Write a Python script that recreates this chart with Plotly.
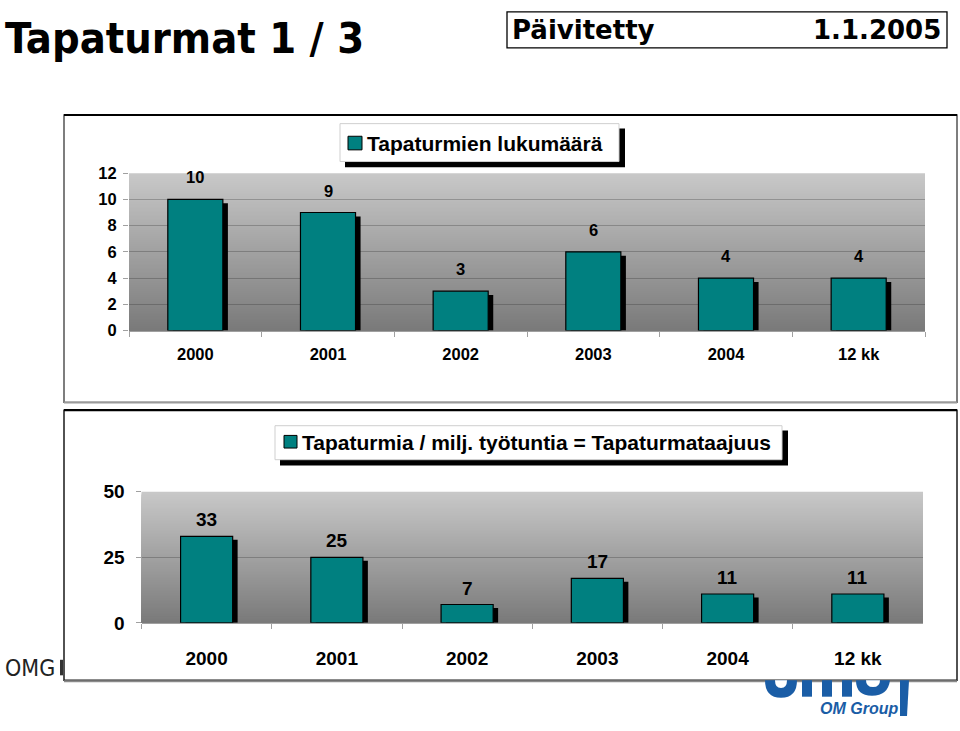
import plotly.graph_objects as go

# ---------------- data ----------------
categories = ["2000", "2001", "2002", "2003", "2004", "12 kk"]
accidents = [10, 9, 3, 6, 4, 4]
frequency = [33, 25, 7, 17, 11, 11]
top_ticks = [0, 2, 4, 6, 8, 10, 12]
bottom_ticks = [0, 25, 50]
top_legend = "Tapaturmien lukumäärä"
bottom_legend = "Tapaturmia / milj. työtuntia = Tapaturmataajuus"
title_text = "Tapaturmat 1 / 3"
updated_label = "Päivitetty"
updated_date = "1.1.2005"
footer_text = "OMG"
logo_text = "OM Group"

# ---------------- helpers ----------------
W, H = 960, 731


def px(x):
    return x / W


def py(y):
    return 1 - y / H


def path(points):
    s = ""
    for cmd, *pts in points:
        s += cmd
        coords = []
        for i in range(0, len(pts), 2):
            coords.append(f"{px(pts[i]):.5f},{py(pts[i + 1]):.5f}")
        s += " ".join(coords) + " "
    return s.strip()


TEAL = "#008080"
BLUE = "#1a5da6"
ARIAL = "Liberation Sans, Arial, sans-serif"
COND = "DejaVu Sans Condensed, DejaVu Sans, sans-serif"

fig = go.Figure()

# ---------------- top chart bars ----------------
bw1, dx1, dy1 = 0.415, 0.038, 0.3
fig.add_bar(x=categories, y=[v - dy1 for v in accidents], width=bw1,
            offset=-bw1 / 2 + dx1, marker=dict(color="black", line=dict(width=0)),
            xaxis="x", yaxis="y", hoverinfo="skip", showlegend=False)
fig.add_bar(x=categories, y=accidents, width=bw1, offset=-bw1 / 2,
            marker=dict(color=TEAL, line=dict(color="black", width=1.2)),
            xaxis="x", yaxis="y", name=top_legend, showlegend=False)

# ---------------- bottom chart bars ----------------
bw2, dx2, dy2 = 0.40, 0.038, 1.3
fig.add_bar(x=categories, y=[v - dy2 for v in frequency], width=bw2,
            offset=-bw2 / 2 + dx2, marker=dict(color="black", line=dict(width=0)),
            xaxis="x2", yaxis="y2", hoverinfo="skip", showlegend=False)
fig.add_bar(x=categories, y=frequency, width=bw2, offset=-bw2 / 2,
            marker=dict(color=TEAL, line=dict(color="black", width=1.2)),
            xaxis="x2", yaxis="y2", name=bottom_legend, showlegend=False)

shapes = []
annotations = []

# ---------------- boxes ----------------
shapes.append(dict(type="rect", xref="paper", yref="paper", x0=px(64), x1=px(957),
                   y0=py(404), y1=py(108), fillcolor="white",
                   line=dict(color="#3a3a3a", width=1.3), layer="below"))
shapes.append(dict(type="line", xref="paper", yref="paper", x0=px(64), x1=px(957),
                   y0=py(108), y1=py(108), line=dict(color="black", width=2), layer="below"))
shapes.append(dict(type="line", xref="paper", yref="paper", x0=px(64), x1=px(957),
                   y0=py(404), y1=py(404), line=dict(color="#9a9a9a", width=2), layer="below"))
shapes.append(dict(type="rect", xref="paper", yref="paper", x0=px(64), x1=px(957),
                   y0=py(690), y1=py(412), fillcolor="white",
                   line=dict(color="#1a1a1a", width=1.5), layer="below"))
shapes.append(dict(type="line", xref="paper", yref="paper", x0=px(64), x1=px(957),
                   y0=py(412), y1=py(412), line=dict(color="black", width=2.2), layer="below"))
shapes.append(dict(type="line", xref="paper", yref="paper", x0=px(64), x1=px(957),
                   y0=py(691), y1=py(691), line=dict(color="#8a8a8a", width=2), layer="below"))

# ---------------- gradient plot backgrounds (nested, seam-free) ----------------
N = 80
top_c, bot_c = (200, 200, 200), (122, 122, 122)
for xr, yr in (("x domain", "y domain"), ("x2 domain", "y2 domain")):
    for i in range(N - 1, -1, -1):
        t = (i + 0.5) / N  # 0 bottom -> 1 top
        c = tuple(round(bot_c[k] + (top_c[k] - bot_c[k]) * t) for k in range(3))
        shapes.append(dict(type="rect", xref=xr, yref=yr, x0=0, x1=1,
                           y0=0, y1=(i + 1) / N,
                           fillcolor=f"rgb{c}", line=dict(width=0), layer="below"))


# ---------------- legend boxes ----------------
def legend_box(x0, y0, x1, y1, sw, text, tx, ty, size):
    shapes.append(dict(type="rect", xref="paper", yref="paper", x0=px(x0 + 5), x1=px(x1 + 6),
                       y0=py(y1 + 6), y1=py(y0 + 5), fillcolor="black",
                       line=dict(width=0), layer="below"))
    shapes.append(dict(type="rect", xref="paper", yref="paper", x0=px(x0), x1=px(x1),
                       y0=py(y1), y1=py(y0), fillcolor="white",
                       line=dict(color="#cfcfcf", width=1), layer="below"))
    shapes.append(dict(type="rect", xref="paper", yref="paper", x0=px(sw[0]), x1=px(sw[2]),
                       y0=py(sw[3]), y1=py(sw[1]), fillcolor=TEAL,
                       line=dict(color="black", width=1), layer="below"))
    annotations.append(dict(text=text, xref="paper", yref="paper", x=px(tx), y=py(ty),
                            xanchor="left", yanchor="middle", showarrow=False,
                            font=dict(family=ARIAL, size=size, color="black", weight="bold")))


legend_box(340, 117, 619, 156, (348, 130, 362, 144), top_legend, 365, 137, 21)
legend_box(275, 428, 782, 463, (284, 438, 297, 451), bottom_legend, 300, 445, 21)

# ---------------- data labels ----------------
for i, v in enumerate(accidents):
    annotations.append(dict(text=str(v), x=i, y=v, xref="x", yref="y", yanchor="bottom",
                            yshift=11, showarrow=False,
                            font=dict(family=ARIAL, size=16.5, color="black", weight="bold")))
for i, v in enumerate(frequency):
    annotations.append(dict(text=str(v), x=i, y=v, xref="x2", yref="y2", yanchor="bottom",
                            yshift=4, showarrow=False,
                            font=dict(family=ARIAL, size=19, color="black", weight="bold")))

# ---------------- header ----------------
annotations.append(dict(text=title_text, xref="paper", yref="paper", x=px(3), y=py(29),
                        xanchor="left", yanchor="middle", showarrow=False,
                        font=dict(family=COND, size=43, color="black", weight="bold")))
shapes.append(dict(type="rect", xref="paper", yref="paper", x0=px(507), x1=px(947),
                   y0=py(39), y1=py(2), fillcolor="white",
                   line=dict(color="black", width=1.3), layer="below"))
annotations.append(dict(text=updated_label, xref="paper", yref="paper", x=px(510), y=py(21),
                        xanchor="left", yanchor="middle", showarrow=False,
                        font=dict(family="DejaVu Sans", size=26, color="black", weight="bold")))
annotations.append(dict(text=updated_date, xref="paper", yref="paper", x=px(943), y=py(21),
                        xanchor="right", yanchor="middle", showarrow=False,
                        font=dict(family="DejaVu Sans", size=26, color="black", weight="bold")))

# ---------------- footer ----------------
annotations.append(dict(text=footer_text, xref="paper", yref="paper", x=px(3), y=py(677),
                        xanchor="left", yanchor="middle", showarrow=False,
                        font=dict(family=COND, size=23, color="#222222")))
shapes.append(dict(type="rect", xref="paper", yref="paper", x0=px(60), x1=px(63),
                   y0=py(685), y1=py(669), fillcolor="#333333", line=dict(width=0), layer="below"))

# logo fragments (below the lower box)
logo_paths = [
    [("M", 765, 690), ("Q", 765, 708, 781, 708), ("Q", 797, 708, 797, 690), ("Z",)],
    [("M", 802, 690), ("L", 812, 690), ("L", 812, 707), ("L", 802, 707), ("Z",)],
    [("M", 822, 690), ("L", 832, 690), ("L", 832, 707), ("L", 822, 707), ("Z",)],
    [("M", 842, 690), ("L", 852, 690), ("L", 852, 707), ("L", 842, 707), ("Z",)],
    [("M", 856, 690), ("Q", 856, 706, 872, 706), ("Q", 888, 706, 890, 690), ("Z",)],
    [("M", 900, 690), ("L", 909, 690), ("L", 907, 727), ("L", 900, 727), ("Z",)],
]
for p in logo_paths:
    shapes.append(dict(type="path", xref="paper", yref="paper", path=path(p),
                       fillcolor=BLUE, line=dict(width=0), layer="below"))
for p in ([("M", 775, 690), ("Q", 775, 698, 781, 698), ("Q", 787, 698, 787, 690), ("Z",)],
          [("M", 866, 690), ("Q", 866, 697, 873, 697), ("Q", 880, 697, 880, 690), ("Z",)]):
    shapes.append(dict(type="path", xref="paper", yref="paper", path=path(p),
                       fillcolor="white", line=dict(width=0), layer="below"))
annotations.append(dict(text=logo_text, xref="paper", yref="paper", x=px(859), y=py(719),
                        xanchor="center", yanchor="middle", showarrow=False,
                        font=dict(family=ARIAL, size=16, color=BLUE, weight="bold",
                                  style="italic")))

# ---------------- axes ----------------
grid = "rgba(40,40,40,0.28)"
tickc = "#a0a0a0"
fig.update_layout(
    width=W, height=H, autosize=False,
    margin=dict(l=0, r=0, t=0, b=0),
    paper_bgcolor="white", plot_bgcolor="rgba(0,0,0,0)",
    barmode="overlay", showlegend=False,
    xaxis=dict(domain=[px(129), px(925)], anchor="y", type="category",
               range=[-0.5, 5.5], showgrid=False, showline=True, linecolor=tickc,
               ticks="outside", tickson="boundaries", ticklen=5, tickcolor=tickc,
               ticklabelstandoff=9,
               tickfont=dict(family=ARIAL, size=16.5, color="black", weight="bold"),
               fixedrange=True),
    yaxis=dict(domain=[py(330), py(168)], anchor="x", range=[0, 12],
               tickvals=top_ticks, showgrid=True, gridcolor=grid, gridwidth=1,
               zeroline=False, showline=False, ticks="outside", ticklen=5,
               tickcolor=tickc, ticklabelstandoff=3,
               tickfont=dict(family=ARIAL, size=16.5, color="black", weight="bold"),
               fixedrange=True),
    xaxis2=dict(domain=[px(141.5), px(923)], anchor="y2", type="category",
                range=[-0.5, 5.5], showgrid=False, showline=True, linecolor=tickc,
                ticks="outside", tickson="boundaries", ticklen=5, tickcolor=tickc,
                ticklabelstandoff=18,
                tickfont=dict(family=ARIAL, size=19, color="black", weight="bold"),
                fixedrange=True),
    yaxis2=dict(domain=[py(631), py(496)], anchor="x2", range=[0, 50],
                tickvals=bottom_ticks, showgrid=True, gridcolor=grid, gridwidth=1,
                zeroline=False, showline=False, ticks="outside", ticklen=5,
                tickcolor=tickc, ticklabelstandoff=7,
                tickfont=dict(family=ARIAL, size=19, color="black", weight="bold"),
                fixedrange=True),
    shapes=shapes,
    annotations=annotations,
)

fig.write_html("out.html")
